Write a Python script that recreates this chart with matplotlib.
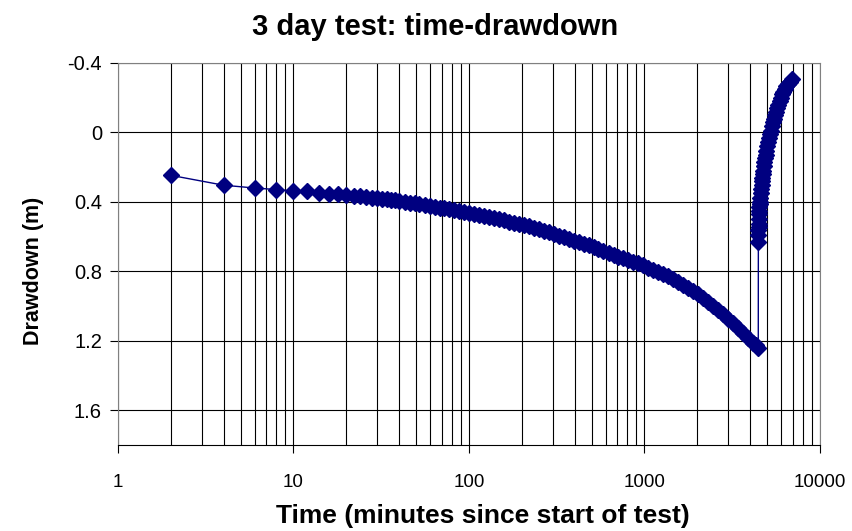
import numpy as np
import matplotlib
matplotlib.use("Agg")
import matplotlib.pyplot as plt
from matplotlib.ticker import FixedLocator, FuncFormatter, LogLocator, NullFormatter

plt.rcParams['font.family'] = ['Liberation Sans', 'DejaVu Sans']

# pumping phase (minutes, drawdown m)
pump_time = [2, 4, 6, 8, 10, 12, 14, 16, 18, 20, 22, 24, 26, 28, 30, 32, 34, 36, 38, 40,
             43, 46, 49, 52, 56, 60, 64, 68, 72, 77, 82, 88, 94, 100, 107, 114, 122, 130,
             139, 148, 158, 169, 180, 192, 205, 219, 234, 250, 267, 285, 304, 325, 347,
             370, 395, 422, 450, 480, 513, 547, 584, 624, 666, 711, 759, 810, 865, 923,
             985, 1052, 1123, 1199, 1280, 1366, 1458, 1557, 1662, 1774, 1894, 2022, 2158,
             2304, 2460, 2626, 2803, 2992, 3194, 3410, 3640, 3886, 4148, 4300, 4450]
pump_dd = [0.247, 0.304, 0.320, 0.329, 0.337, 0.339, 0.346, 0.352, 0.356, 0.360, 0.364,
           0.368, 0.372, 0.376, 0.380, 0.383, 0.386, 0.389, 0.392, 0.396, 0.400, 0.404,
           0.408, 0.412, 0.417, 0.423, 0.428, 0.433, 0.437, 0.442, 0.447, 0.453, 0.458,
           0.463, 0.469, 0.475, 0.482, 0.488, 0.495, 0.501, 0.507, 0.513, 0.520, 0.527,
           0.534, 0.541, 0.549, 0.557, 0.566, 0.575, 0.585, 0.595, 0.605, 0.614, 0.623,
           0.633, 0.642, 0.651, 0.661, 0.670, 0.680, 0.692, 0.704, 0.715, 0.726, 0.737,
           0.746, 0.754, 0.765, 0.778, 0.790, 0.803, 0.816, 0.828, 0.842, 0.862, 0.880,
           0.898, 0.916, 0.933, 0.955, 0.975, 0.998, 1.020, 1.045, 1.072, 1.098, 1.125,
           1.153, 1.182, 1.210, 1.225, 1.240]

# recovery phase
rec_time = [4451, 4455, 4460, 4464, 4468, 4478, 4490, 4505, 4520, 4535, 4550, 4575, 4600,
            4625, 4650, 4675, 4700, 4725, 4753, 4785, 4820, 4860, 4900, 4950, 5000, 5055,
            5114, 5175, 5240, 5310, 5380, 5455, 5530, 5615, 5700, 5790, 5880, 5980, 6080,
            6190, 6300, 6440, 6594, 6740, 6890]
rec_dd = [0.630, 0.590, 0.560, 0.545, 0.530, 0.500, 0.470, 0.450, 0.430, 0.415, 0.400,
          0.375, 0.350, 0.325, 0.300, 0.280, 0.260, 0.240, 0.220, 0.195, 0.170, 0.150,
          0.130, 0.105, 0.080, 0.055, 0.030, 0.010, -0.010, -0.035, -0.060, -0.080,
          -0.100, -0.120, -0.140, -0.160, -0.180, -0.200, -0.220, -0.235, -0.250, -0.265,
          -0.280, -0.293, -0.305]

time_all = pump_time + rec_time
dd_all = pump_dd + rec_dd

fig = plt.figure(figsize=(8.53, 5.31), dpi=100)
ax = fig.add_axes([0.1383, 0.162, 0.823, 0.7194])

ax.plot(time_all, dd_all, color='#000080', lw=1, marker='D', markersize=8.5,
        markeredgecolor='#000080', markerfacecolor='#000080', zorder=3)

ax.set_xscale('log')
ax.set_xlim(1, 10000)
ax.set_ylim(1.8, -0.4)

ax.xaxis.set_major_locator(FixedLocator([1, 10, 100, 1000, 10000]))
ax.xaxis.set_major_formatter(FuncFormatter(lambda v, p: '%d' % v))
ax.xaxis.set_minor_locator(LogLocator(base=10, subs=np.arange(2, 10)))
ax.xaxis.set_minor_formatter(NullFormatter())
ax.yaxis.set_major_locator(FixedLocator([-0.4, 0, 0.4, 0.8, 1.2, 1.6]))
ax.yaxis.set_major_formatter(FuncFormatter(lambda v, p: '%g' % round(v, 2)))

ax.grid(True, which='major', color='black', lw=0.8)
ax.grid(True, which='minor', axis='x', color='black', lw=0.8)
ax.tick_params(axis='x', which='minor', length=0)
ax.tick_params(axis='both', which='major', length=6, width=0.8)
ax.tick_params(axis='x', pad=15, labelsize=13.5)
ax.tick_params(axis='y', pad=5.5, labelsize=14.5)

for s in ['top', 'right', 'left']:
    ax.spines[s].set_color('#808080')
ax.spines['bottom'].set_color('black')

fig.text(435 / 853, 1 - 27 / 531, '3 day test: time-drawdown', fontsize=21,
         fontweight='bold', ha='center', va='center')
ax.set_xlabel('Time (minutes since start of test)', fontsize=19, fontweight='bold')
ax.xaxis.set_label_coords(0.52, -0.155)
ax.set_ylabel('Drawdown (m)', fontsize=15.5, fontweight='bold')
ax.yaxis.set_label_coords(-0.106, 0.455)

fig.savefig('out.png', dpi=100)
